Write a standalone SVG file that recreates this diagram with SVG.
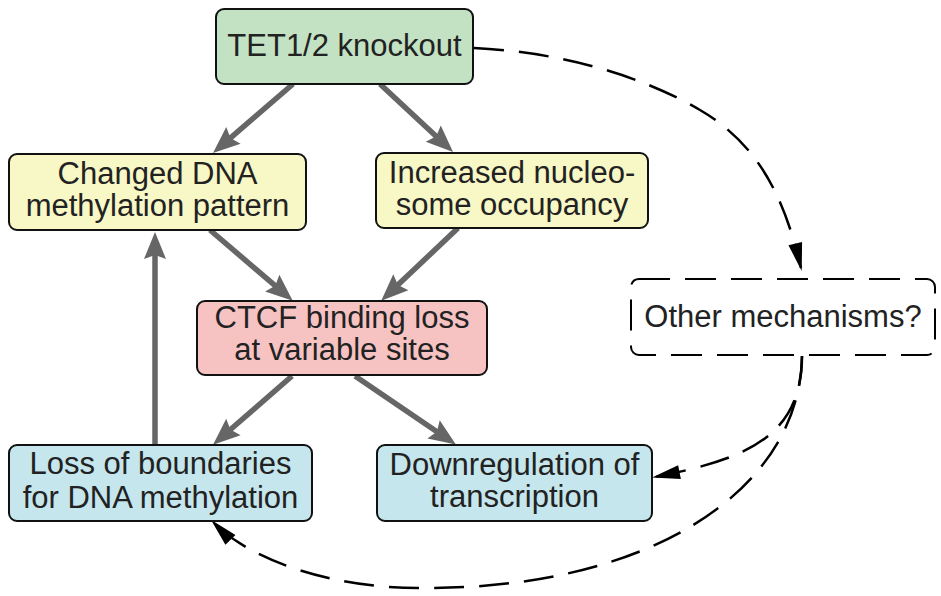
<svg xmlns="http://www.w3.org/2000/svg" width="941" height="596" viewBox="0 0 941 596">
<defs>
<style>
.box{stroke:#111;stroke-width:2}
.t{font-family:"Liberation Sans",Arial,sans-serif;font-size:31px;fill:#222;text-anchor:middle}
.g{stroke:#666;stroke-width:5.5;fill:none}
.d{stroke:#000;stroke-width:2.5;fill:none;stroke-dasharray:30 15}
</style>
<marker id="ga" markerUnits="userSpaceOnUse" markerWidth="28" markerHeight="24" refX="13" refY="11" orient="auto" overflow="visible">
<path d="M0,0 L27,11 L0,22 L4,11 Z" fill="#666"/>
</marker>
<marker id="ba" markerUnits="userSpaceOnUse" markerWidth="28" markerHeight="14" refX="25" refY="7" orient="auto" overflow="visible">
<path d="M0,0 L28,7 L0,14 Z" fill="#000"/>
</marker>
</defs>
<rect width="941" height="596" fill="#fff"/>
<g id="connectors">
<line class="g" x1="293" y1="84" x2="223.6" y2="143.9" marker-end="url(#ga)"/>
<line class="g" x1="380" y1="84" x2="442.8" y2="142.5" marker-end="url(#ga)"/>
<line class="g" x1="210" y1="230" x2="282.1" y2="291.6" marker-end="url(#ga)"/>
<line class="g" x1="458" y1="228" x2="391.4" y2="291.1" marker-end="url(#ga)"/>
<line class="g" x1="292" y1="376" x2="223.6" y2="435.5" marker-end="url(#ga)"/>
<line class="g" x1="355" y1="376" x2="444.3" y2="436.7" marker-end="url(#ga)"/>
<line class="g" x1="155" y1="445" x2="155" y2="246" marker-end="url(#ga)"/>
<path class="d" d="M474,48 C560,52 640,75 700,110 S785,200 801,268" marker-end="url(#ba)"/>
<path class="d" d="M802,356 C802,440 740,460 655,477" marker-end="url(#ba)"/>
<path class="d" d="M802,356 C800,490 650,590 420,588 C330,588 250,560 213,522" marker-end="url(#ba)"/>
</g>
<g id="tet">
<rect class="box" x="216" y="9" width="257" height="75" rx="8" fill="#c3e2c3"/>
<text class="t" x="344.5" y="56">TET1/2 knockout</text>
</g>
<g id="changed">
<rect class="box" x="9" y="154" width="297" height="76" rx="8" fill="#f8f7c6"/>
<text class="t" x="157.5" y="184">Changed DNA</text>
<text class="t" x="157.5" y="216">methylation pattern</text>
</g>
<g id="increased">
<rect class="box" x="376" y="153" width="272" height="75" rx="8" fill="#f8f7c6"/>
<text class="t" x="512" y="183">Increased nucleo-</text>
<text class="t" x="512" y="215">some occupancy</text>
</g>
<g id="ctcf">
<rect class="box" x="197" y="301" width="290" height="74" rx="8" fill="#f7c2c2"/>
<text class="t" x="342" y="328">CTCF binding loss</text>
<text class="t" x="342" y="360">at variable sites</text>
</g>
<g id="loss">
<rect class="box" x="9" y="445" width="303" height="76" rx="8" fill="#c5e6ec"/>
<text class="t" x="160.5" y="474">Loss of boundaries</text>
<text class="t" x="160.5" y="508">for DNA methylation</text>
</g>
<g id="downreg">
<rect class="box" x="377" y="445" width="275" height="76" rx="8" fill="#c5e6ec"/>
<text class="t" x="514.5" y="475">Downregulation of</text>
<text class="t" x="514.5" y="507">transcription</text>
</g>
<g id="other">
<rect x="631" y="279" width="304" height="76" rx="8" fill="#fff" stroke="#000" stroke-width="2" stroke-dasharray="31 15"/>
<text class="t" x="783" y="327">Other mechanisms?</text>
</g>
</svg>
